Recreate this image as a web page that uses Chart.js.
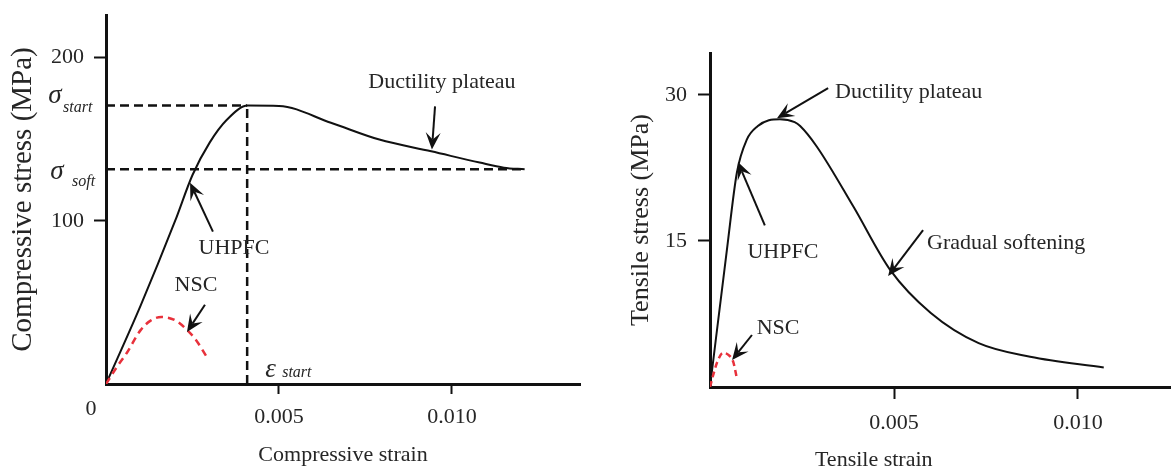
<!DOCTYPE html>
<html><head><meta charset="utf-8">
<script src="https://cdn.jsdelivr.net/npm/chart.js@4.4.0/dist/chart.umd.min.js"></script>
<style>
html,body{margin:0;padding:0;background:#fff;}
#wrap{position:relative;width:1173px;height:470px;overflow:hidden;background:#fff;}
#c1{position:absolute;left:0;top:0;}
#c2{position:absolute;left:600px;top:0;}
</style></head><body>
<div id="wrap"><canvas id="c1" width="600" height="470"></canvas><canvas id="c2" width="573" height="470"></canvas></div>
<script>
// ---------- data ----------
const compStrainUHPFC = [0, 0.0010, 0.0020, 0.0025, 0.0030, 0.0035, 0.0041, 0.0050, 0.0065, 0.0079, 0.0094, 0.0108, 0.0115, 0.0121];
const compStressUHPFC = [0, 48, 100, 128, 148, 162, 170.5, 170.3, 160, 149.7, 142.5, 135.6, 132.5, 131.5];
const compStrainNSC = [0, 0.0003, 0.0006, 0.0010, 0.0013, 0.0016, 0.0020, 0.0023, 0.0026, 0.0029];
const compStressNSC = [0, 10, 19, 33, 39, 41, 39, 34, 27, 17];
const sigmaStart = 170.5;
const sigmaSoft = 131.5;
const epsStart = 0.00408;
const compYTicks = [100, 200];
const compXTicks = [0.005, 0.010];

const tensStrainUHPFC = [0, 0.00046, 0.00073, 0.0010, 0.0013, 0.0016, 0.0019, 0.0023, 0.00245, 0.0029, 0.0039, 0.0049, 0.0060, 0.0073, 0.0087, 0.0107];
const tensStressUHPFC = [0, 14.1, 22, 25.4, 26.8, 27.4, 27.5, 27.2, 26.8, 24.7, 18.5, 12.0, 7.6, 4.5, 3.1, 2.0];
const tensStrainNSC = [0, 0.0001, 0.0002, 0.00035, 0.0005, 0.00063, 0.00073];
const tensStressNSC = [0, 1.4, 2.6, 3.5, 3.3, 2.6, 0.9];
const tensYTicks = [15, 30];
const tensXTicks = [0.005, 0.010];

// ---------- styling ----------
const FONT = "'Liberation Serif', 'Times New Roman', serif";
const TXT = '#262626';
const INK = '#111';
const RED = '#e8313b';

function pts(xs, ys) { return xs.map((x, i) => ({x: x, y: ys[i]})); }

function curve(xs, ys, color, dash, width) {
  return {data: pts(xs, ys), showLine: true, borderColor: color, borderWidth: width,
    borderDash: dash, pointRadius: 0, cubicInterpolationMode: 'monotone', fill: false};
}
function straight(data, dash) {
  return {data: data, showLine: true, borderColor: INK, borderWidth: 2.5, borderDash: dash,
    pointRadius: 0, tension: 0, fill: false};
}

function xAxis(max, ticks, height, tickLen, pad, title) {
  return {
    type: 'linear', min: 0, max: max, position: 'bottom',
    afterBuildTicks: s => { s.ticks = ticks.map(v => ({value: v})); },
    afterFit: s => { s.height = height; s.paddingLeft = 0; s.paddingRight = 0; },
    border: {display: true, color: INK, width: 3},
    grid: {display: true, drawOnChartArea: false, drawTicks: true, tickLength: tickLen, tickWidth: 2, tickColor: INK},
    ticks: {color: TXT, font: {family: FONT, size: 22}, padding: pad, maxRotation: 0, autoSkip: false,
      callback: v => Number(v).toFixed(3)},
    title: title ? {display: true, text: title, color: TXT, font: {family: FONT, size: 22}, padding: {top: 0, bottom: 2}} : {display: false}
  };
}
function yAxis(max, ticks, width, tickLen, pad, title, tsize, tpad) {
  return {
    type: 'linear', min: 0, max: max,
    afterBuildTicks: s => { s.ticks = ticks.map(v => ({value: v})); },
    afterFit: s => { s.width = width; s.paddingTop = 0; s.paddingBottom = 0; },
    border: {display: true, color: INK, width: 3},
    grid: {display: true, drawOnChartArea: false, drawTicks: true, tickLength: tickLen, tickWidth: 2, tickColor: INK},
    ticks: {color: TXT, font: {family: FONT, size: 22}, padding: pad, autoSkip: false, callback: v => String(v)},
    title: {display: true, text: title, color: TXT, font: {family: FONT, size: tsize}, padding: {top: tpad, bottom: 0}}
  };
}

function drawArrow(ctx, x1, y1, x2, y2) {
  const a = Math.atan2(y2 - y1, x2 - x1);
  const L = 17, W = 7.5, N = 10;
  const c = Math.cos(a), s = Math.sin(a);
  const nx = x2 - N * c, ny = y2 - N * s;
  const bx = x2 - L * c, by = y2 - L * s;
  ctx.beginPath(); ctx.moveTo(x1, y1); ctx.lineTo(nx, ny); ctx.stroke();
  ctx.beginPath();
  ctx.moveTo(x2, y2);
  ctx.lineTo(bx + W * s, by - W * c);
  ctx.lineTo(nx, ny);
  ctx.lineTo(bx - W * s, by + W * c);
  ctx.closePath(); ctx.fill();
}

const notesPlugin = {
  id: 'notes',
  afterDraw(chart, args, opts) {
    const ctx = chart.ctx, xs = chart.scales.x, ys = chart.scales.y, ca = chart.chartArea;
    ctx.save();
    (opts.texts || []).forEach(t => {
      const px = t.x !== undefined ? xs.getPixelForValue(t.x) : ca.left + t.dx;
      const py = t.y !== undefined ? ys.getPixelForValue(t.y) : ca.bottom + t.dy;
      ctx.font = (t.italic ? 'italic ' : '') + (t.size || 22) + 'px ' + FONT;
      ctx.fillStyle = TXT;
      ctx.textAlign = t.align || 'center';
      ctx.textBaseline = t.baseline || 'middle';
      ctx.fillText(t.text, px + (t.ox || 0), py + (t.oy || 0));
    });
    ctx.strokeStyle = INK; ctx.fillStyle = INK; ctx.lineWidth = 2;
    (opts.arrows || []).forEach(a => {
      drawArrow(ctx, xs.getPixelForValue(a.x1), ys.getPixelForValue(a.y1),
        xs.getPixelForValue(a.x2), ys.getPixelForValue(a.y2));
    });
    ctx.restore();
  }
};

// ---------- left chart: compression ----------
new Chart(document.getElementById('c1'), {
  type: 'scatter',
  data: {datasets: [
    straight([{x: 0, y: sigmaStart}, {x: epsStart, y: sigmaStart}], [9, 5]),
    straight([{x: 0, y: sigmaSoft}, {x: compStrainUHPFC[compStrainUHPFC.length - 1], y: sigmaSoft}], [9, 5]),
    straight([{x: epsStart, y: 0}, {x: epsStart, y: sigmaStart}], [9, 5]),
    curve(compStrainNSC, compStressNSC, RED, [7, 5], 2.5),
    curve(compStrainUHPFC, compStressUHPFC, INK, [], 2)
  ]},
  options: {
    responsive: false, animation: false, events: [],
    layout: {padding: {top: 15, right: 20, bottom: 0, left: 0}},
    scales: {
      x: xAxis(0.0137, compXTicks, 86, 10, 10, 'Compressive strain'),
      y: yAxis(226, compYTicks, 106, 12, 10, 'Compressive stress (MPa)', 29, 6)
    },
    plugins: {
      legend: {display: false}, tooltip: {enabled: false},
      notes: {
        texts: [
          {text: 'Ductility plateau', x: 0.00971, y: 184.7},
          {text: 'UHPFC', x: 0.0037, y: 83.4},
          {text: 'NSC', x: 0.0026, y: 60.7},
          {text: 'σ', dx: -51, y: sigmaStart, oy: -3, italic: true, size: 27, baseline: 'alphabetic'},
          {text: 'start', dx: -43, y: sigmaStart, oy: 6, italic: true, size: 16, align: 'left', baseline: 'alphabetic'},
          {text: 'σ', dx: -49, y: sigmaSoft, oy: 10, italic: true, size: 27, baseline: 'alphabetic'},
          {text: 'soft', dx: -34, y: sigmaSoft, oy: 17, italic: true, size: 16, align: 'left', baseline: 'alphabetic'},
          {text: 'ε', x: epsStart, y: 0, ox: 18, oy: -7, italic: true, size: 27, align: 'left', baseline: 'alphabetic'},
          {text: 'start', x: epsStart, y: 0, ox: 35, oy: -7, italic: true, size: 16, align: 'left', baseline: 'alphabetic'},
          {text: '0', x: 0, y: 0, ox: -15, oy: 25}
        ],
        arrows: [
          {x1: 0.00951, y1: 170, x2: 0.00942, y2: 143.6},
          {x1: 0.00309, y1: 93.3, x2: 0.00243, y2: 123.3},
          {x1: 0.00286, y1: 48.5, x2: 0.00234, y2: 31.9}
        ]
      }
    }
  },
  plugins: [notesPlugin]
});

// ---------- right chart: tension ----------
new Chart(document.getElementById('c2'), {
  type: 'scatter',
  data: {datasets: [
    curve(tensStrainNSC, tensStressNSC, RED, [6, 4], 2.5),
    curve(tensStrainUHPFC, tensStressUHPFC, INK, [], 2)
  ]},
  options: {
    responsive: false, animation: false, events: [],
    layout: {padding: {top: 53, right: 3, bottom: 0, left: 0}},
    scales: {
      x: xAxis(0.0125, tensXTicks, 83, 12, 11, null),
      y: yAxis(34.3, tensYTicks, 110, 12, 11, 'Tensile stress (MPa)', 26, 26)
    },
    plugins: {
      legend: {display: false}, tooltip: {enabled: false},
      notes: {
        texts: [
          {text: 'Ductility plateau', x: 0.0034, y: 30.3, align: 'left'},
          {text: 'UHPFC', x: 0.00198, y: 13.8},
          {text: 'Gradual softening', x: 0.0059, y: 14.8, align: 'left'},
          {text: 'NSC', x: 0.00185, y: 6.06},
          {text: 'Tensile strain', x: 0.00445, dy: 73}
        ],
        arrows: [
          {x1: 0.00321, y1: 30.7, x2: 0.00182, y2: 27.6},
          {x1: 0.00149, y1: 16.6, x2: 0.00076, y2: 23.1},
          {x1: 0.00579, y1: 16.1, x2: 0.00484, y2: 11.4},
          {x1: 0.00114, y1: 5.34, x2: 0.0006, y2: 2.77}
        ]
      }
    }
  },
  plugins: [notesPlugin]
});
</script>
</body></html>
